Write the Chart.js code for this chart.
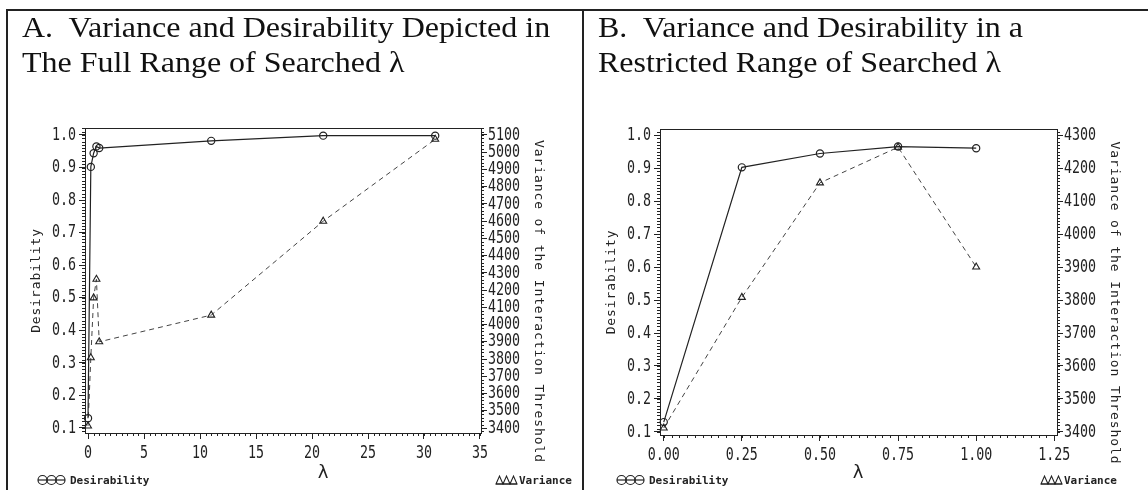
<!DOCTYPE html>
<html>
<head>
<meta charset="utf-8">
<script src="https://cdn.jsdelivr.net/npm/chart.js@4.4.1/dist/chart.umd.min.js"></script>
<style>
  html, body { margin: 0; padding: 0; background: #fff; }
  #page { position: relative; width: 1148px; height: 490px; overflow: hidden; background: #fff; }
  .rule { position: absolute; background: #222; }
  .title { position: absolute; top: 9.4px; font-family: 'Liberation Serif', 'Times New Roman', serif;
           font-size: 32px; line-height: 40.4px; color: #111; white-space: nowrap; z-index: 2;
           transform: scaleY(0.89); transform-origin: 0 0; }
  canvas { position: absolute; top: 0; }
</style>
</head>
<body>
<div id="page">
  <div class="rule" style="left:6px; top:9px; width:1142px; height:2px;"></div>
  <div class="rule" style="left:6px; top:9px; width:2px; height:481px;"></div>
  <div class="rule" style="left:582px; top:9px; width:2px; height:481px;"></div>
  <div class="title" style="left:22px;">A.&nbsp; Variance and Desirability Depicted in<br>The Full Range of Searched λ</div>
  <div class="title" style="left:598px;">B.&nbsp; Variance and Desirability in a<br>Restricted Range of Searched λ</div>
  <canvas id="chartA" width="583" height="490" style="left:0px;"></canvas>
  <canvas id="chartB" width="565" height="490" style="left:583px;"></canvas>
</div>
<script>
// Searched lambda values and the two responses at each one
const lambdaA = [0, 0.25, 0.5, 0.75, 1, 11, 21, 31];
const desirabilityA = [0.13, 0.902, 0.944, 0.965, 0.960, 0.982, 0.998, 0.998];
const varianceA = [3412, 3808, 4155, 4263, 3900, 4055, 4600, 5075];

const lambdaB = [0, 0.25, 0.5, 0.75, 1];
const desirabilityB = [0.13, 0.902, 0.944, 0.965, 0.960];
const varianceB = [3412, 3808, 4155, 4263, 3900];

// Tick labels
const desirabilityTicks = [0.1, 0.2, 0.3, 0.4, 0.5, 0.6, 0.7, 0.8, 0.9, 1.0];
const varianceTicksA = [3400, 3500, 3600, 3700, 3800, 3900, 4000, 4100, 4200, 4300, 4400, 4500, 4600, 4700, 4800, 4900, 5000, 5100];
const varianceTicksB = [3400, 3500, 3600, 3700, 3800, 3900, 4000, 4100, 4200, 4300];
const lambdaTicksA = [0, 5, 10, 15, 20, 25, 30, 35];
const lambdaTicksB = [0, 0.25, 0.5, 0.75, 1.0, 1.25];

const MONO = "'DejaVu Sans Mono', 'Liberation Mono', monospace";
const TICK_FONT = "18px " + MONO;
const INK = '#222';

function minorTicks(ctx, scale, step, len, side, area) {
  const n0 = Math.ceil(scale.min / step - 1e-9);
  const n1 = Math.floor(scale.max / step + 1e-9);
  ctx.beginPath();
  for (let n = n0; n <= n1; n++) {
    const p = Math.round(scale.getPixelForValue(n * step)) + 0.5;
    if (side === 'bottom') { ctx.moveTo(p, area.bottom); ctx.lineTo(p, area.bottom + len); }
    else if (side === 'left') { ctx.moveTo(area.left, p); ctx.lineTo(area.left - len, p); }
    else { ctx.moveTo(area.right, p); ctx.lineTo(area.right + len, p); }
  }
  ctx.stroke();
}

// Tick labels in a narrow monospaced face, placed by the scale itself
function tickLabels(ctx, scale, side, area, fmt) {
  ctx.save();
  ctx.font = TICK_FONT;
  ctx.fillStyle = INK;
  ctx.textBaseline = 'middle';
  ctx.letterSpacing = '0px';
  for (const t of scale.ticks) {
    const p = scale.getPixelForValue(t.value);
    const text = (t.label !== undefined && t.label !== '') ? String(t.label) : fmt(t.value);
    ctx.save();
    if (side === 'bottom') { ctx.translate(p, area.bottom + 20); ctx.textAlign = 'center'; }
    else if (side === 'left') { ctx.translate(area.left - 9, p); ctx.textAlign = 'right'; }
    else { ctx.translate(area.right + 7, p); ctx.textAlign = 'left'; }
    ctx.scale(0.74, 1);
    ctx.fillText(text, 0, 0);
    ctx.restore();
  }
  ctx.restore();
}

function plainText(ctx, text, x, y, angle, font, align, spacing) {
  ctx.save();
  ctx.translate(x, y);
  ctx.rotate(angle);
  ctx.font = font;
  ctx.letterSpacing = (spacing || 0) + 'px';
  ctx.fillStyle = INK;
  ctx.textAlign = align || 'center';
  ctx.textBaseline = 'middle';
  ctx.fillText(text, 0, 0);
  ctx.restore();
}

function legendCircles(ctx, x, y) {
  ctx.save();
  ctx.strokeStyle = INK; ctx.lineWidth = 1.2;
  ctx.beginPath(); ctx.moveTo(x, y); ctx.lineTo(x + 27, y); ctx.stroke();
  for (let i = 0; i < 3; i++) {
    ctx.beginPath(); ctx.arc(x + 4.5 + i * 9, y, 4.5, 0, Math.PI * 2); ctx.stroke();
  }
  ctx.restore();
}

function legendTriangles(ctx, x, y) {
  ctx.save();
  ctx.strokeStyle = INK; ctx.lineWidth = 1.1;
  ctx.beginPath(); ctx.moveTo(x, y + 4); ctx.lineTo(x + 21, y + 4); ctx.stroke();
  for (let i = 0; i < 3; i++) {
    const cx = x + 3.5 + i * 7;
    ctx.beginPath(); ctx.moveTo(cx - 3.5, y + 4); ctx.lineTo(cx, y - 4); ctx.lineTo(cx + 3.5, y + 4); ctx.closePath(); ctx.stroke();
  }
  ctx.restore();
}

function makePanel(canvasId, p) {
  const decor = {
    id: 'sasDecor',
    beforeDatasetsDraw(chart) {
      const ctx = chart.ctx, a = chart.chartArea;
      ctx.save();
      ctx.strokeStyle = INK; ctx.lineWidth = 1;
      ctx.strokeRect(Math.round(a.left) + 0.5, Math.round(a.top) + 0.5, Math.round(a.right - a.left), Math.round(a.bottom - a.top));
      ctx.restore();
    },
    afterDraw(chart) {
      const ctx = chart.ctx, a = chart.chartArea;
      ctx.save();
      ctx.strokeStyle = INK; ctx.lineWidth = 1;
      minorTicks(ctx, chart.scales.x, p.xMinor, 3, 'bottom', a);
      minorTicks(ctx, chart.scales.y, p.yMinor, 3, 'left', a);
      minorTicks(ctx, chart.scales.y2, p.y2Minor, 3, 'right', a);
      ctx.restore();

      tickLabels(ctx, chart.scales.x, 'bottom', a, p.xFmt);
      tickLabels(ctx, chart.scales.y, 'left', a, v => v.toFixed(1));
      tickLabels(ctx, chart.scales.y2, 'right', a, v => String(v));

      const midY = (a.top + a.bottom) / 2;
      plainText(ctx, 'Desirability', a.left - 48, midY, -Math.PI / 2, "13px " + MONO, 'center', 0.9);
      plainText(ctx, 'Variance of the Interaction Threshold', a.right + 57, midY + 21, Math.PI / 2, "13px " + MONO, 'center', 0.9);
      plainText(ctx, 'λ', p.lambdaX, 473, 0, "18px 'DejaVu Sans', sans-serif");
      legendCircles(ctx, p.legendDesX, 480);
      plainText(ctx, 'Desirability', p.legendDesX + 32, 481, 0, "bold 11px " + MONO, 'left');
      legendTriangles(ctx, p.legendVarX, 480);
      plainText(ctx, 'Variance', p.legendVarX + 23, 481, 0, "bold 11px " + MONO, 'left');
    }
  };

  const axisCommon = {
    type: 'linear',
    grid: { drawOnChartArea: false, tickLength: 6, color: INK, tickColor: INK, lineWidth: 1 },
    border: { display: true, color: INK, width: 1 }
  };

  return new Chart(document.getElementById(canvasId), {
    type: 'line',
    data: {
      datasets: [
        {
          label: 'Desirability',
          data: p.lambda.map((x, i) => ({ x: x, y: p.des[i] })),
          yAxisID: 'y',
          borderColor: INK, borderWidth: 1.2,
          pointStyle: 'circle', pointRadius: 3.6, pointBorderWidth: 1.2,
          pointBorderColor: INK, pointBackgroundColor: 'rgba(255,255,255,0)',
          tension: 0, clip: false
        },
        {
          label: 'Variance',
          data: p.lambda.map((x, i) => ({ x: x, y: p.variance[i] })),
          yAxisID: 'y2',
          borderColor: '#444', borderWidth: 1, borderDash: [5, 4],
          pointStyle: 'triangle', pointRadius: 4, pointBorderWidth: 1.1,
          pointBorderColor: INK, pointBackgroundColor: 'rgba(255,255,255,0)',
          tension: 0, clip: false
        }
      ]
    },
    options: {
      responsive: false,
      animation: false,
      devicePixelRatio: 1,
      layout: { padding: { top: p.top, left: 0, right: 0, bottom: 0 } },
      plugins: { legend: { display: false }, tooltip: { enabled: false } },
      scales: {
        x: Object.assign({}, axisCommon, {
          position: 'bottom', min: p.xMin, max: p.xMax,
          afterBuildTicks: s => { s.ticks = p.xTicks.map(v => ({ value: v })); },
          afterFit: s => { s.height = p.xHeight; },
          ticks: { display: false, autoSkip: false, maxRotation: 0, callback: p.xFmt }
        }),
        y: Object.assign({}, axisCommon, {
          position: 'left', min: p.yMin, max: p.yMax,
          afterBuildTicks: s => { s.ticks = desirabilityTicks.map(v => ({ value: v })); },
          afterFit: s => { s.width = p.yWidth; },
          ticks: { display: false, autoSkip: false, callback: v => v.toFixed(1) }
        }),
        y2: Object.assign({}, axisCommon, {
          position: 'right', min: p.y2Min, max: p.y2Max,
          afterBuildTicks: s => { s.ticks = p.y2Ticks.map(v => ({ value: v })); },
          afterFit: s => { s.width = p.y2Width; },
          ticks: { display: false, autoSkip: false, callback: v => String(v) }
        })
      }
    },
    plugins: [decor]
  });
}

makePanel('chartA', {
  lambda: lambdaA, des: desirabilityA, variance: varianceA,
  xTicks: lambdaTicksA, xFmt: v => String(v), xMin: -0.27, xMax: 35.09, xMinor: 0.5,
  yMin: 0.0846, yMax: 1.0215, yMinor: 0.01,
  y2Ticks: varianceTicksA, y2Min: 3371, y2Max: 5140.6, y2Minor: 20,
  top: 128, xHeight: 57, yWidth: 85, y2Width: 102,
  lambdaX: 323, legendDesX: 38, legendVarX: 496
});

makePanel('chartB', {
  lambda: lambdaB, des: desirabilityB, variance: varianceB,
  xTicks: lambdaTicksB, xFmt: v => v.toFixed(2), xMin: -0.012, xMax: 1.2587, xMinor: 0.025,
  yMin: 0.0909, yMax: 1.0182, yMinor: 0.01,
  y2Ticks: varianceTicksB, y2Min: 3390.9, y2Max: 4318.2, y2Minor: 10,
  top: 129, xHeight: 55, yWidth: 77, y2Width: 91,
  lambdaX: 275, legendDesX: 34, legendVarX: 458
});
</script>
</body>
</html>
